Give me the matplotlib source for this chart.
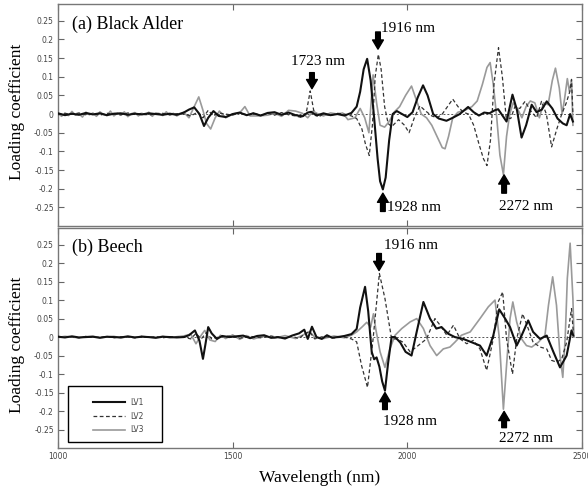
import numpy as np
import matplotlib
matplotlib.use('Agg')
import matplotlib.pyplot as plt
from matplotlib.patches import Rectangle

# ---- data (wavelength in nm, loading coefficient) ----
noise_wl = [1000, 1020, 1040, 1060, 1080, 1100, 1120, 1140, 1160, 1180, 1200, 1220,
            1240, 1260, 1280, 1300, 1320, 1340]
noise_wl_fine = [1000, 1010, 1020, 1030, 1040, 1050, 1060, 1070, 1080, 1090, 1100, 1110,
                 1120, 1130, 1140, 1150, 1160, 1170, 1180, 1190, 1200, 1210, 1220, 1230,
                 1240, 1250, 1260, 1270, 1280, 1290, 1300, 1310, 1320, 1330, 1340]

# (a) Black Alder
a_lv1_wl = noise_wl + [1360, 1375, 1390, 1405, 1418, 1430, 1445, 1460, 1480, 1500, 1520, 1540,
                       1560, 1580, 1600, 1620, 1640, 1660, 1680, 1700, 1715, 1725, 1740, 1760,
                       1780, 1800, 1820, 1840, 1855, 1865, 1875, 1885, 1895, 1905, 1915, 1922,
                       1930, 1938, 1948, 1958, 1970, 1985, 2000, 2015, 2030, 2045, 2058, 2074,
                       2090, 2112, 2130, 2150, 2174, 2190, 2205, 2220, 2235, 2250, 2260, 2284,
                       2301, 2314, 2327, 2340, 2356, 2370, 2385, 2399, 2415, 2430, 2445, 2456,
                       2466, 2474]
a_lv1 = [0.002, -0.003, 0.001, -0.002, 0.003, -0.001, 0.002, -0.003, 0.001, 0.002, -0.002,
         0.001, -0.001, 0.002, 0.0, -0.002, 0.001, -0.002,
         0.004, 0.012, 0.018, 0.0, -0.032, -0.01, 0.008, -0.005, -0.008, 0.0, 0.004, -0.003,
         0.002, -0.004, 0.003, 0.005, -0.002, 0.004, -0.003, -0.006, 0.004, 0.006, -0.004, 0.002,
         -0.003, 0.0, -0.004, 0.003, 0.02, 0.06, 0.12, 0.148, 0.09, -0.01, -0.12, -0.18,
         -0.202, -0.17, -0.07, 0.0, 0.008, 0.0, -0.008, 0.005, 0.045, 0.077, 0.05, 0.0,
         -0.012, -0.018, -0.01, 0.0, 0.019, 0.005, -0.004, 0.004, 0.002, 0.01, 0.013, -0.02,
         0.052, 0.01, -0.063, -0.03, 0.025, 0.005, 0.012, 0.034, 0.015, -0.012, -0.025, -0.03,
         0.0, -0.02]

a_lv2_wl = noise_wl + [1360, 1380, 1400, 1415, 1430, 1445, 1460, 1480, 1500, 1520, 1540, 1560,
                       1580, 1600, 1620, 1640, 1660, 1680, 1700, 1712, 1722, 1732, 1745, 1760,
                       1780, 1800, 1820, 1840, 1855, 1870, 1880, 1891, 1900, 1908, 1917, 1925,
                       1935, 1945, 1955, 1975, 1992, 2005, 2020, 2036, 2050, 2070, 2085, 2100,
                       2115, 2130, 2145, 2160, 2175, 2190, 2205, 2218, 2228, 2238, 2248, 2261,
                       2272, 2283, 2296, 2308, 2322, 2337, 2352, 2370, 2384, 2398, 2413, 2428,
                       2442, 2455, 2465, 2470, 2474]
a_lv2 = [-0.002, 0.002, -0.001, 0.003, -0.002, 0.001, -0.003, 0.002, 0.0, -0.002, 0.003,
         -0.001, 0.002, -0.003, 0.001, 0.002, -0.002, 0.001,
         0.0, -0.005, 0.005, -0.01, 0.01, -0.005, 0.003, 0.0, -0.003, 0.004, -0.002, 0.003,
         -0.004, 0.002, -0.003, 0.004, -0.002, -0.005, -0.01, 0.01, 0.062, 0.01, -0.008, 0.0,
         -0.004, 0.002, 0.0, -0.005, -0.012, -0.04, -0.08, -0.111, -0.03, 0.1, 0.16, 0.12,
         0.02, -0.025, -0.034, -0.015, -0.03, -0.05, -0.01, 0.022, 0.01, -0.005, -0.01, 0.0,
         0.02, 0.04, 0.02, 0.005, 0.0, -0.03, -0.08, -0.12, -0.138, -0.07, 0.08, 0.178,
         0.1, -0.01, -0.012, 0.02, 0.015, 0.034, 0.01, -0.01, 0.034, 0.0, -0.088, -0.04,
         0.0, 0.03, 0.06, 0.093, 0.0]

a_lv3_wl = noise_wl_fine + [1360, 1375, 1390, 1403, 1415, 1425, 1437, 1450, 1462, 1480, 1500,
                            1520, 1535, 1550, 1575, 1600, 1620, 1640, 1660, 1680, 1700, 1715,
                            1730, 1745, 1760, 1780, 1800, 1815, 1830, 1850, 1865, 1878, 1890,
                            1902, 1912, 1922, 1935, 1948, 1962, 1978, 1995, 2012, 2025, 2040,
                            2055, 2070, 2085, 2100, 2108, 2118, 2130, 2145, 2165, 2185, 2200,
                            2215, 2228, 2237, 2246, 2256, 2265, 2275, 2284, 2293, 2303, 2315,
                            2328, 2340, 2352, 2365, 2378, 2390, 2403, 2415, 2424, 2435, 2443,
                            2450, 2458, 2464, 2470, 2474]
a_lv3 = [0.004, -0.006, 0.002, -0.004, 0.007, -0.003, 0.001, -0.008, 0.005, -0.002, 0.003,
         -0.006, 0.006, -0.001, -0.004, 0.008, -0.005, 0.002, -0.003, 0.006, -0.007, 0.001,
         0.004, -0.005, 0.002, -0.002, 0.005, -0.006, 0.003, 0.001, -0.004, 0.006, -0.003,
         0.002, -0.005,
         0.005, -0.01, 0.02, 0.046, 0.01, -0.025, -0.04, -0.01, 0.008, -0.01, 0.0, 0.003, 0.02,
         -0.005, -0.005, -0.003, 0.002, -0.006, 0.01, 0.008, 0.002, -0.01, 0.008, 0.0, -0.005,
         0.003, 0.0, 0.003, -0.015, -0.01, 0.015, -0.01, -0.05, 0.105, 0.03, -0.03, -0.035,
         -0.02, 0.005, 0.02, 0.05, 0.075, 0.04, 0.0, -0.01, -0.03, -0.06, -0.09, -0.093,
         -0.06, -0.01, 0.005, 0.01, 0.02, 0.035, 0.08, 0.125, 0.138, 0.08, -0.01, -0.11,
         -0.162, -0.06, 0.0, 0.03, 0.015, -0.01, 0.02, 0.035, 0.03, -0.01, 0.03, 0.025,
         0.09, 0.123, 0.07, 0.0, 0.04, 0.095, 0.06, 0.09, -0.03]

# (b) Beech
b_lv1_wl = noise_wl + [1360, 1375, 1392, 1405, 1415, 1422, 1430, 1440, 1455, 1470, 1490, 1510,
                       1530, 1550, 1570, 1590, 1610, 1630, 1650, 1670, 1690, 1705, 1715, 1727,
                       1740, 1755, 1770, 1785, 1800, 1820, 1840, 1855, 1865, 1879, 1888, 1898,
                       1905, 1912, 1920, 1928, 1936, 1945, 1955, 1965, 1980, 1995, 2012, 2027,
                       2046, 2065, 2083, 2098, 2117, 2136, 2160, 2184, 2208, 2227, 2246, 2263,
                       2280, 2294, 2313, 2327, 2346, 2360, 2380, 2399, 2418, 2437, 2456, 2470,
                       2475]
b_lv1 = [0.001, -0.001, 0.002, -0.001, 0.0, 0.001, -0.002, 0.001, 0.0, -0.001, 0.002, -0.001,
         0.001, 0.0, -0.002, 0.001, 0.0, -0.001,
         0.0, 0.005, 0.018, -0.01, -0.059, -0.02, 0.027, 0.01, -0.005, 0.003, 0.0, 0.002,
         0.004, -0.003, 0.003, 0.005, -0.002, 0.0, -0.004, 0.004, 0.01, 0.02, -0.005, 0.028,
         0.0, -0.005, 0.005, -0.002, 0.0, 0.003, 0.008, 0.022, 0.08, 0.136, 0.07, -0.04,
         -0.06, -0.055, -0.08, -0.12, -0.145, -0.07, 0.0, 0.0, -0.015, -0.04, -0.05, 0.015,
         0.095, 0.05, 0.023, 0.027, 0.009, 0.0, -0.005, -0.014, -0.023, -0.05, 0.004, 0.075,
         0.05, 0.027, -0.023, 0.004, 0.045, 0.014, -0.005, 0.004, -0.04, -0.082, -0.05, 0.018,
         0.004]

b_lv2_wl = noise_wl + [1360, 1380, 1395, 1410, 1425, 1440, 1460, 1490, 1520, 1550, 1580, 1610,
                       1640, 1670, 1690, 1705, 1720, 1735, 1760, 1790, 1820, 1840, 1855, 1869,
                       1886, 1902, 1920, 1936, 1955, 1970, 1988, 2008, 2031, 2055, 2079, 2094,
                       2113, 2132, 2151, 2170, 2189, 2208, 2227, 2246, 2260, 2273, 2284, 2301,
                       2313, 2330, 2346, 2360, 2380, 2399, 2413, 2428, 2442, 2456, 2470, 2475]
b_lv2 = [0.002, -0.001, 0.001, -0.002, 0.002, 0.0, -0.001, 0.002, -0.002, 0.001, 0.0, -0.002,
         0.002, -0.001, 0.001, -0.002, 0.001, 0.0,
         0.0, -0.005, 0.01, -0.005, 0.012, -0.005, 0.0, 0.003, -0.003, 0.002, -0.002, 0.003,
         -0.003, 0.002, -0.004, 0.008, 0.015, -0.005, 0.002, -0.002, 0.0, -0.005, -0.013,
         -0.077, -0.136, -0.005, 0.172, 0.104, -0.005, -0.005, -0.014, -0.04, -0.023, -0.005,
         0.05, 0.032, 0.005, 0.032, -0.005, -0.018, -0.009, -0.032, -0.09, -0.005, 0.095,
         0.122, -0.005, -0.1, -0.005, 0.063, 0.023, -0.014, -0.027, -0.032, -0.063, -0.068,
         -0.059, -0.014, 0.077, 0.014]

b_lv3_wl = noise_wl + [1360, 1380, 1395, 1410, 1420, 1435, 1450, 1465, 1480, 1500, 1520, 1540,
                       1560, 1590, 1620, 1650, 1680, 1700, 1720, 1735, 1760, 1790, 1820, 1840,
                       1855, 1870, 1884, 1895, 1903, 1910, 1922, 1936, 1950, 1965, 1984, 2008,
                       2027, 2046, 2065, 2084, 2103, 2122, 2136, 2155, 2180, 2208, 2232, 2251,
                       2263, 2275, 2284, 2294, 2302, 2313, 2327, 2341, 2356, 2375, 2394, 2404,
                       2416, 2427, 2437, 2445, 2452, 2458, 2466, 2474, 2477]
b_lv3 = [-0.001, 0.002, 0.0, -0.002, 0.001, 0.002, -0.001, 0.0, 0.002, -0.002, 0.001, -0.001,
         0.002, 0.0, -0.001, 0.002, -0.002, 0.001,
         0.003, 0.008, -0.018, 0.005, 0.018, -0.008, -0.012, 0.005, -0.004, 0.006, -0.006,
         0.004, -0.005, 0.003, -0.003, 0.004, -0.004, 0.005, 0.015, 0.0, -0.004, 0.003, -0.002,
         0.005, 0.014, 0.027, 0.04, 0.027, 0.063, 0.02, -0.04, -0.082, -0.032, 0.005, 0.023,
         0.041, 0.05, 0.023, -0.023, -0.05, -0.032, -0.027, -0.014, 0.005, 0.014, 0.05, 0.082,
         0.1, 0.0, -0.195, -0.077, 0.05, 0.095, 0.041, -0.005, -0.023, -0.027, -0.014, 0.005,
         0.086, 0.163, 0.086, -0.05, -0.109, 0.0, 0.159, 0.254, 0.104, 0.0]

yticks = [-0.25, -0.2, -0.15, -0.1, -0.05, 0, 0.05, 0.1, 0.15, 0.2, 0.25]
ytick_labels = ['-0.25', '-0.2', '-0.15', '-0.1', '-0.05', '0', '0.05', '0.1', '0.15', '0.2', '0.25']
xticks = [1000, 1500, 2000, 2500]

serif = 'Liberation Serif'

fig = plt.figure(figsize=(5.88, 4.93), dpi=100)
ax1 = fig.add_axes([0.0986, 0.5416, 0.8912, 0.4503])
ax2 = fig.add_axes([0.0986, 0.0913, 0.8912, 0.4462])

panels = [
    (ax1, a_lv1_wl, a_lv1, a_lv2_wl, a_lv2, a_lv3_wl, a_lv3, '(a) Black Alder'),
    (ax2, b_lv1_wl, b_lv1, b_lv2_wl, b_lv2, b_lv3_wl, b_lv3, '(b) Beech'),
]

for ax, w1, v1, w2, v2, w3, v3, title in panels:
    ax.axhline(0, color='#555555', lw=0.7, ls=(0, (2, 2)), zorder=1)
    ax.plot(w3, v3, color='#9a9a9a', lw=1.2, zorder=2, label='LV3')
    ax.plot(w2, v2, color='#333333', lw=0.9, ls=(0, (3, 2)), zorder=3, label='LV2')
    ax.plot(w1, v1, color='#111111', lw=1.5, zorder=4, label='LV1')
    ax.set_xlim(1000, 2500)
    ax.set_ylim(-0.3, 0.295)
    ax.set_yticks(yticks)
    ax.set_yticklabels(ytick_labels)
    ax.set_xticks(xticks)
    ax.tick_params(direction='in', length=4, width=0.8, top=True, right=True,
                   labelsize=5.5, labelcolor='#444444', color='#666666', pad=3)
    for s in ax.spines.values():
        s.set_color('#777777')
        s.set_linewidth(1.0)
    ax.text(0.027, 0.91, title, transform=ax.transAxes, fontsize=13,
            family=serif, ha='left', va='center')

ax1.set_xticklabels([])

# "2500" tick label sits on the right edge and is cut off by the figure border
ax2.set_xticklabels(['1000', '1500', '2000', '2500'])

arrow = dict(arrowstyle='simple,head_length=0.55,head_width=0.65,tail_width=0.28',
             color='black', mutation_scale=12, shrinkA=0, shrinkB=0)

# (a) annotations
ax1.annotate('', xy=(1727, 0.068), xytext=(1727, 0.111), arrowprops=arrow)
ax1.text(1822, 0.141, '1723 nm', ha='right', va='center', fontsize=11, family=serif)
ax1.annotate('', xy=(1916, 0.174), xytext=(1916, 0.220), arrowprops=arrow)
ax1.text(1924, 0.228, '1916 nm', ha='left', va='center', fontsize=11, family=serif)
ax1.annotate('', xy=(1930, -0.212), xytext=(1930, -0.261), arrowprops=arrow)
ax1.text(1942, -0.250, '1928 nm', ha='left', va='center', fontsize=11, family=serif)
ax1.annotate('', xy=(2277, -0.163), xytext=(2277, -0.212), arrowprops=arrow)
ax1.text(2262, -0.248, '2272 nm', ha='left', va='center', fontsize=11, family=serif)

# (b) annotations
ax2.annotate('', xy=(1919, 0.180), xytext=(1919, 0.226), arrowprops=arrow)
ax2.text(1933, 0.248, '1916 nm', ha='left', va='center', fontsize=11, family=serif)
ax2.annotate('', xy=(1936, -0.150), xytext=(1936, -0.196), arrowprops=arrow)
ax2.text(1930, -0.228, '1928 nm', ha='left', va='center', fontsize=11, family=serif)
ax2.annotate('', xy=(2277, -0.201), xytext=(2277, -0.245), arrowprops=arrow)
ax2.text(2262, -0.275, '2272 nm', ha='left', va='center', fontsize=11, family=serif)

# legend: boxed, bottom-left of panel (b)
ax2.add_patch(Rectangle((0.019, 0.027), 0.179, 0.255, transform=ax2.transAxes,
                        fill=False, ec='black', lw=1.0, zorder=5))
h, l = ax2.get_legend_handles_labels()
order = [2, 1, 0]
leg = ax2.legend([h[i] for i in order], [l[i] for i in order], loc='center left',
                 bbox_to_anchor=(0.066, 0.145), frameon=False, fontsize=5.5,
                 handlelength=4.2, labelspacing=0.6, handletextpad=0.7,
                 borderpad=0, borderaxespad=0)
for t in leg.get_texts():
    t.set_color('#444444')

fig.text(0.029, 0.773, 'Loading coefficient', rotation=90, ha='center', va='center',
         fontsize=12.5, family=serif)
fig.text(0.029, 0.300, 'Loading coefficient', rotation=90, ha='center', va='center',
         fontsize=12.5, family=serif)
fig.text(0.544, 0.030, 'Wavelength (nm)', ha='center', va='center', fontsize=12.5,
         family=serif)

fig.savefig('out.png', dpi=100)
